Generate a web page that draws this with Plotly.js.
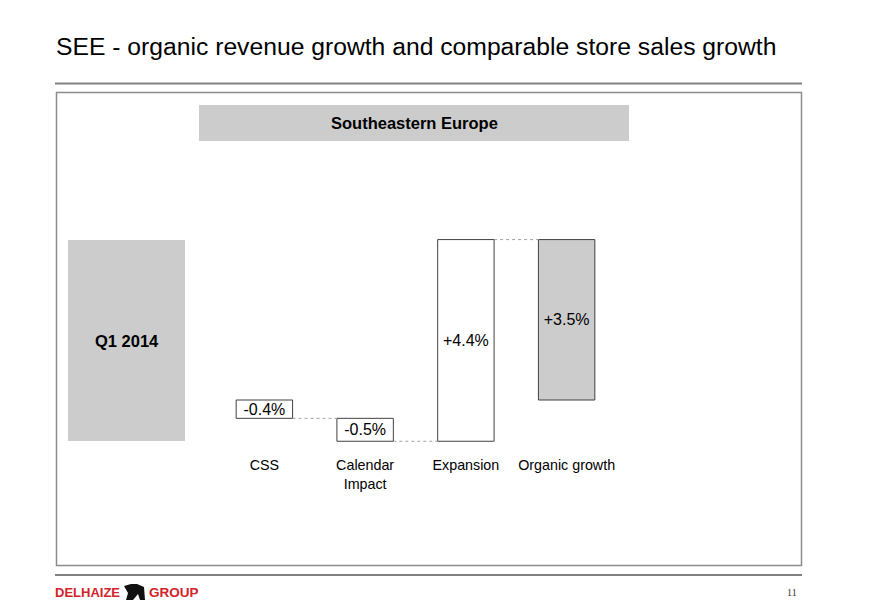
<!DOCTYPE html>
<html>
<head>
<meta charset="utf-8">
<script src="https://cdn.plot.ly/plotly-3.0.1.min.js"></script>
<style>html,body{margin:0;padding:0;background:#fff;}#chart{width:870px;height:615px;}</style>
</head>
<body>
<div id="chart"></div>
<script>
// ---- data ----
const categories = ['CSS', 'Calendar<br>Impact', 'Expansion', 'Organic growth'];
const bases = [0, -0.4, -0.9, 0];
const changes = [-0.4, -0.5, 4.4, 3.5];
const barLabels = ['-0.4%', '-0.5%', '+4.4%', '+3.5%'];
const pageTitle = 'SEE - organic revenue growth and comparable store sales growth';
const panelTitle = 'Southeastern Europe';
const periodLabel = 'Q1 2014';
const pageNumber = '11';

// ---- layout geometry ----
const W = 870, H = 615;
const L = 214, R = 253, T = 235, B = 160;
const PW = W - L - R, PH = H - T - B;
const px = x => (x - L) / PW;
const py = y => (H - B - y) / PH;
const FONT = '"Liberation Sans", Arial, sans-serif';

const idx = categories.map((_, i) => i);
const BW = 0.56;

const traces = [{
  type: 'bar',
  x: idx,
  y: changes,
  base: bases,
  width: BW,
  text: barLabels,
  textposition: 'inside',
  insidetextanchor: 'middle',
  constraintext: 'none',
  textfont: {family: FONT, size: 16, color: '#000'},
  marker: {color: ['#ffffff', '#ffffff', '#ffffff', '#cccccc'], line: {color: '#404040', width: 1}},
  hoverinfo: 'none',
  cliponaxis: false,
  showlegend: false
}];

// dotted connectors between consecutive bars, at each bar's end level
for (let i = 0; i < categories.length - 1; i++) {
  const lvl = bases[i] + changes[i];
  traces.push({
    type: 'scatter', mode: 'lines',
    x: [idx[i] + BW / 2, idx[i + 1] - BW / 2],
    y: [lvl, lvl],
    line: {color: '#a0a0a0', width: 1, dash: 'dot'},
    hoverinfo: 'none', showlegend: false, cliponaxis: false
  });
}

const shapes = [
  // top rule
  {type: 'line', xref: 'paper', yref: 'paper', x0: px(55), x1: px(802), y0: py(83.5), y1: py(83.5), line: {color: '#808080', width: 2}},
  // frame
  {type: 'rect', xref: 'paper', yref: 'paper', x0: px(56.5), x1: px(801.5), y0: py(92.5), y1: py(565.5), line: {color: '#8c8c8c', width: 1.5}},
  // panel header
  {type: 'rect', xref: 'paper', yref: 'paper', x0: px(199), x1: px(629), y0: py(105), y1: py(141), fillcolor: '#cccccc', line: {width: 0}},
  // period box
  {type: 'rect', xref: 'paper', yref: 'paper', x0: px(68), x1: px(185), y0: py(240), y1: py(441), fillcolor: '#cccccc', line: {width: 0}},
  // footer rule
  {type: 'line', xref: 'paper', yref: 'paper', x0: px(55), x1: px(802), y0: py(575), y1: py(575), line: {color: '#808080', width: 2}},
  // logo lion (approximate)
  {type: 'path', xref: 'paper', yref: 'paper', fillcolor: '#111', line: {width: 0},
   path: 'M ' + px(124) + ',' + py(586) + ' L ' + px(131) + ',' + py(584) + ' L ' + px(137) + ',' + py(584) +
         ' L ' + px(144) + ',' + py(587) + ' L ' + px(145) + ',' + py(600) + ' L ' + px(140) + ',' + py(600) +
         ' L ' + px(138) + ',' + py(594) + ' L ' + px(133) + ',' + py(600) + ' L ' + px(126) + ',' + py(600) +
         ' L ' + px(128) + ',' + py(593) + ' Z'}
];

const LOGO_FONT = '"Liberation Sans Narrow", "Liberation Sans", Arial, sans-serif';
const annotations = [
  {xref: 'paper', yref: 'paper', x: px(54), y: py(46), xanchor: 'left', yanchor: 'middle', text: pageTitle, showarrow: false,
   font: {family: FONT, size: 24.7, color: '#000'}},
  {xref: 'paper', yref: 'paper', x: px(414), y: py(123), xanchor: 'center', yanchor: 'middle', text: '<b>' + panelTitle + '</b>', showarrow: false,
   font: {family: FONT, size: 16.5, color: '#000'}},
  {xref: 'paper', yref: 'paper', x: px(126.5), y: py(341), xanchor: 'center', yanchor: 'middle', text: '<b>' + periodLabel + '</b>', showarrow: false,
   font: {family: FONT, size: 16.5, color: '#000'}},
  {xref: 'paper', yref: 'paper', x: px(53), y: py(592), xanchor: 'left', yanchor: 'middle', text: '<b>DELHAIZE</b>', showarrow: false,
   font: {family: LOGO_FONT, size: 13, color: '#d2232a'}},
  {xref: 'paper', yref: 'paper', x: px(147), y: py(592), xanchor: 'left', yanchor: 'middle', text: '<b>GROUP</b>', showarrow: false,
   font: {family: LOGO_FONT, size: 13.5, color: '#d2232a'}},
  {xref: 'paper', yref: 'paper', x: px(799), y: py(592), xanchor: 'right', yanchor: 'middle', text: pageNumber, showarrow: false,
   font: {family: '"Liberation Serif", "DejaVu Serif", serif', size: 10, color: '#333'}}
];

const layout = {
  width: W, height: H,
  margin: {l: L, r: R, t: T, b: B, pad: 0},
  paper_bgcolor: '#fff', plot_bgcolor: 'rgba(0,0,0,0)',
  showlegend: false,
  barmode: 'overlay',
  xaxis: {
    range: [-0.5, 3.5], tickvals: idx, ticktext: categories,
    showgrid: false, zeroline: false, showline: false, ticks: '',
    tickfont: {family: FONT, size: 14.3, color: '#000'}, fixedrange: true
  },
  yaxis: {
    range: [-1.2, 3.6], showgrid: false, zeroline: false, showline: false,
    showticklabels: false, ticks: '', fixedrange: true
  },
  shapes: shapes,
  annotations: annotations
};

Plotly.newPlot('chart', traces, layout, {displayModeBar: false, staticPlot: true});
</script>
</body>
</html>
